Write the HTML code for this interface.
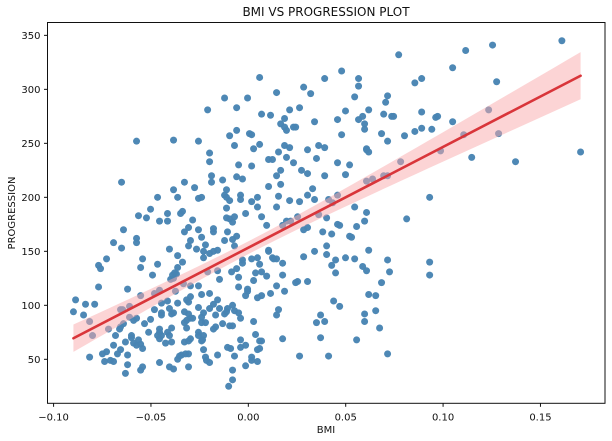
<!DOCTYPE html>
<html lang="en">
<head>
<meta charset="utf-8">
<title>BMI VS PROGRESSION PLOT</title>
<style>
html,body{margin:0;padding:0;background:#fff;}
svg{display:block;}
text{font-family:"DejaVu Sans","Liberation Sans",sans-serif;fill:#111;}
</style>
</head>
<body>
<svg id="chart" width="612" height="441" viewBox="0 0 612 441" xmlns="http://www.w3.org/2000/svg">
  <rect width="612" height="441" fill="#ffffff"/>
  <text x="326" y="16" text-anchor="middle" font-size="12">BMI VS PROGRESSION PLOT</text>
  <text x="326" y="433" text-anchor="middle" font-size="10">BMI</text>
  <text transform="translate(15,213) rotate(-90)" text-anchor="middle" font-size="10">PROGRESSION</text>
  <g id="points"></g>
  <path id="band" fill="#f9a9ab" fill-opacity="0.5" stroke="none"></path>
  <line id="fit" stroke="#d9353a" stroke-width="2.6" stroke-linecap="round"></line>
  <g id="ticks"></g>
  <rect x="47.5" y="22.5" width="557.5" height="380.8" fill="none" stroke="#111" stroke-width="1"/>
</svg>
<script>
const xTickValues = [-0.10, -0.05, 0.00, 0.05, 0.10, 0.15];
const xTickLabels = ["\u22120.10", "\u22120.05", "0.00", "0.05", "0.10", "0.15"];
const yTickValues = [50, 100, 150, 200, 250, 300, 350];
const yTickLabels = ["50", "100", "150", "200", "250", "300", "350"];

const bmiValues = [
-.0122,-.0209,-.0096,-.0574,-.0384,-.0256,-.0199,-.0199,-.0189,-.0132,
-.0651,-.0328,-.0189,-.0276,-.0384,-.0112,-.0122,-.0466,-.0363,-.0256,
-.0240,-.0112,-.0096,-.0502,-.0112,
-.0564,-.0523,-.0415,-.0456,-.0415,-.0348,-.0338,-.0286,-.0112,-.0096,
-.0307,-.0328,-.0256,-.0179,-.0179,-.0107,-.0641,-.0240,-.0297,-.0122,
-.0574,-.0574,-.0692,-.0307,-.0220,-.0651,-.0405,-.0266,-.0230,-.0158,
-.0179,-.0199,-.0363,-.0230,-.0728,-.0543,-.0338,-.0466,-.0769,-.0759,
-.0553,-.0363,-.0492,-.0379,-.0389,-.0369,-.0399,-.0384,-.0209,-.0158,
-.0086,-.0148,-.0333,-.0256,-.0297,-.0769,-.0620,-.0374,-.0456,-.0482,
-.0553,-.0240,-.0199,-.0297,-.0415,-.0446,-.0363,-.0317,-.0307,-.0158,
-.0179,-.0199,-.0256,-.0887,-.0836,-.0789,-.0610,-.0646,-.0656,-.0482,
-.0405,-.0148,-.0107,-.0898,-.0328,-.0230,-.0384,-.0394,-.0446,-.0446,
-.0122,-.0846,-.0168,-.0307,-.0240,-.0610,-.0574,-.0589,-.0502,-.0815,
-.0297,-.0286,-.0317,-.0328,-.0240,-.0220,-.0533,-.0132,-.0641,-.0096,
-.0656,-.0661,-.0718,-.0394,-.0456,-.0317,-.0168,-.0179,-.0512,-.0800,
-.0682,-.0600,-.0456,-.0415,-.0466,-.0446,-.0405,-.0256,-.0256,-.0230,
-.0600,-.0564,-.0456,-.0297,-.0631,-.0589,-.0425,-.0394,-.0328,-.0307,
-.0240,-.0235,-.0692,-.0574,-.0553,-.0543,-.0230,-.0107,-.0656,-.0672,
-.0728,-.0749,-.0307,-.0322,-.0343,-.0353,-.0363,-.0815,-.0620,-.0158,
-.0220,-.0738,-.0708,-.0692,-.0456,-.0215,-.0199,-.0620,-.0307,-.0405,
-.0384,-.0543,-.0553,-.0631,
.0772,.0058,.0479,.0392,.0566,.0566,.0145,.0284,.0320,-.0004,
.0546,.0715,.0705,-.0060,.0263,.0212,.0618,.0499,.0068,.0114,
.0186,.0587,.0695,.0736,.0746,.0458,.0566,.0340,.0166,.0186,
.0196,.0232,.0243,.0597,.0597,-.0060,.0006,.0017,.0479,.0684,
.0802,.0715,-.0071,.0058,.0027,.0186,.0212,.0361,.0392,.0304,
.0607,.0607,.0618,.0155,.0104,.0124,.0196,.0350,.0232,.0458,
.0520,.0782,-.0050,.0017,.0273,.0304,.0166,.0145,.0499,.0392,
-.0060,-.0030,.0104,.0166,.0607,.0638,.0695,.0715,.0330,-.0040,
-.0040,.0047,.0017,.0155,.0304,.0458,.0340,.0212,.0263,.0412,
.0433,.0047,.0145,.0546,
-.0071,-.0081,-.0014,.0068,.0253,.0361,.0607,.0402,.0196,.0217,
.0176,.0094,.0458,.0469,.0597,.0556,.0813,.0284,.0304,.0382,
.0428,-.0060,-.0081,.0520,.0530,-.0071,.0402,.0618,.0340,.0402,
.0104,.0104,.0284,.0047,.0017,-.0030,-.0030,.0124,.0130,.0145,
.0176,.0448,.0499,.0546,.0715,.0058,.0428,.0587,.0607,-.0060,
.0068,.0037,.0448,.0725,.0176,.0094,-.0050,.0027,.0253,.0243,
.0304,.0684,.0145,-.0050,-.0004,-.0004,.0186,.0114,.0618,.0654,
-.0014,.0068,.0047,.0438,.0469,-.0081,-.0071,-.0112,-.0050,-.0040,
.0155,.0145,.0654,.0371,.0597,.0350,.0392,.0597,.0027,-.0081,
.0674,.0037,.0371,.0176,.0556,-.0040,.0058,.0068,-.0091,-.0040,
-.0014,.0047,.0058,-.0071,.0263,.0412,.0017,.0017,.0047,.0715,
-.0014,-.0081,-.0081,-.0101,
.1610,.1254,.1116,.1049,.0890,.0855,.1275,.0890,.1234,.0962,
.0972,.1049,.0855,.0890,.0942,.1106,.1285,.0987,.1147,.1372,
.1706,.0931,.0931,.0931
];
const progressionValues = [
292,281,257,252,253,252,241,233,220,216,
214,214,214,209,207,207,202,200,200,199,
200,200,197,189,190,
183,181,185,178,178,185,187,179,181,180,
172,168,170,171,168,168,170,163,160,160,
162,158,158,155,156,153,152,152,150,151,
150,148,146,144,143,143,140,138,137,134,
135,135,128,130,128,129,124,125,131,132,
131,124,120,118,118,117,115,113,114,111,
109,110,111,108,104,102,102,105,103,105,
101,97,98,105,101,101,99,96,96,96,
97,97,97,94,94,93,93,92,93,91,
92,91,91,92,89,89,88,86,87,85,
88,88,86,84,84,84,83,83,83,81,
80,78,78,79,78,79,80,78,75,72,
72,72,75,75,72,72,72,75,72,72,
70,68,69,69,66,65,65,66,66,67,
67,68,63,63,64,60,59,61,59,55,
57,55,55,55,54,53,50,52,54,54,
52,48,49,48,47,49,47,45,43,43,
41,43,40,37,
332,311,317,310,310,303,297,302,296,292,
293,294,288,283,283,281,281,280,277,276,
273,275,277,275,275,272,272,270,268,265,
262,265,265,268,263,262,259,258,258,259,
257,252,248,249,245,248,246,248,246,244,
245,244,242,242,235,235,237,236,232,232,
230,233,230,229,225,222,225,220,221,220,
219,217,210,212,215,217,220,220,208,202,
198,200,196,201,202,202,198,197,196,198,
195,191,191,191,
182,177,185,182,182,184,186,181,178,178,
174,174,175,174,178,173,180,170,172,168,
166,164,161,164,163,155,155,151,150,147,
151,150,145,144,143,142,139,144,143,143,
139,142,144,143,142,138,137,136,132,134,
131,130,130,131,128,127,126,123,122,121,
122,121,118,117,115,113,113,111,110,109,
109,109,107,104,99,100,95,94,93,88,
96,91,95,91,92,84,85,85,85,81,
79,73,70,69,68,68,67,67,60,61,
63,59,60,53,53,53,52,49,48,55,
44,40,31,25,
345,341,336,320,310,306,307,279,281,274,
275,270,261,264,263,258,259,243,237,233,
242,200,140,128
];

const plotLeft = 47.5, plotRight = 605, plotTop = 22.5, plotBottom = 403.3;
const xDomainMin = -0.10312, xDomainMax = 0.18314;
const yDomainMin = 9.26, yDomainMax = 361.9;
function xScale(v){ return plotLeft + (v - xDomainMin) / (xDomainMax - xDomainMin) * (plotRight - plotLeft); }
function yScale(v){ return plotBottom - (v - yDomainMin) / (yDomainMax - yDomainMin) * (plotBottom - plotTop); }

const SVGNS = "http://www.w3.org/2000/svg";
const pointsGroup = document.getElementById("points");
const count = Math.min(bmiValues.length, progressionValues.length);
for (let i = 0; i < count; i++) {
  const c = document.createElementNS(SVGNS, "circle");
  c.setAttribute("cx", xScale(bmiValues[i]).toFixed(2));
  c.setAttribute("cy", yScale(progressionValues[i]).toFixed(2));
  c.setAttribute("r", "3.5");
  c.setAttribute("fill", "#4884b3");
  c.setAttribute("fill-opacity", "0.97");
  
  
  pointsGroup.appendChild(c);
}

/* ordinary least squares fit with a 95% confidence band, derived from the arrays */
let sx = 0, sy = 0;
for (let i = 0; i < count; i++) { sx += bmiValues[i]; sy += progressionValues[i]; }
const xMean = sx / count, yMean = sy / count;
let sxx = 0, sxy = 0;
for (let i = 0; i < count; i++) {
  sxx += (bmiValues[i] - xMean) * (bmiValues[i] - xMean);
  sxy += (bmiValues[i] - xMean) * (progressionValues[i] - yMean);
}
const slope = sxy / sxx, intercept = yMean - slope * xMean;
let sse = 0;
for (let i = 0; i < count; i++) {
  const r = progressionValues[i] - (intercept + slope * bmiValues[i]);
  sse += r * r;
}
const sigma = Math.sqrt(sse / (count - 2));
const xLo = Math.min.apply(null, bmiValues), xHi = Math.max.apply(null, bmiValues);

const fit = document.getElementById("fit");
fit.setAttribute("x1", xScale(xLo).toFixed(2));
fit.setAttribute("y1", yScale(intercept + slope * xLo).toFixed(2));
fit.setAttribute("x2", xScale(xHi).toFixed(2));
fit.setAttribute("y2", yScale(intercept + slope * xHi).toFixed(2));

const upper = [], lower = [];
const steps = 40;
for (let k = 0; k <= steps; k++) {
  const v = xLo + (xHi - xLo) * k / steps;
  const half = 1.96 * sigma * Math.sqrt(1 / count + (v - xMean) * (v - xMean) / sxx);
  const m = intercept + slope * v;
  upper.push(xScale(v).toFixed(2) + " " + yScale(m + half).toFixed(2));
  lower.unshift(xScale(v).toFixed(2) + " " + yScale(m - half).toFixed(2));
}
document.getElementById("band").setAttribute("d", "M" + upper.join("L") + "L" + lower.join("L") + "Z");

const ticksGroup = document.getElementById("ticks");
xTickValues.forEach(function (v, i) {
  const px = xScale(v);
  const t = document.createElementNS(SVGNS, "line");
  t.setAttribute("x1", px); t.setAttribute("x2", px);
  t.setAttribute("y1", plotBottom); t.setAttribute("y2", plotBottom + 3.5);
  t.setAttribute("stroke", "#111");
  
  
  ticksGroup.appendChild(t);
  const l = document.createElementNS(SVGNS, "text");
  l.setAttribute("x", px); l.setAttribute("y", plotBottom + 17);
  l.setAttribute("text-anchor", "middle");
  l.setAttribute("font-size", "10");
  l.textContent = xTickLabels[i];
  
  
  ticksGroup.appendChild(l);
});
yTickValues.forEach(function (v, i) {
  const py = yScale(v);
  const t = document.createElementNS(SVGNS, "line");
  t.setAttribute("x1", plotLeft - 3.5); t.setAttribute("x2", plotLeft);
  t.setAttribute("y1", py); t.setAttribute("y2", py);
  t.setAttribute("stroke", "#111");
  
  
  ticksGroup.appendChild(t);
  const l = document.createElementNS(SVGNS, "text");
  l.setAttribute("x", plotLeft - 7); l.setAttribute("y", py + 3.7);
  l.setAttribute("text-anchor", "end");
  l.setAttribute("font-size", "10");
  l.textContent = yTickLabels[i];
  
  
  ticksGroup.appendChild(l);
});
</script>
</body>
</html>
